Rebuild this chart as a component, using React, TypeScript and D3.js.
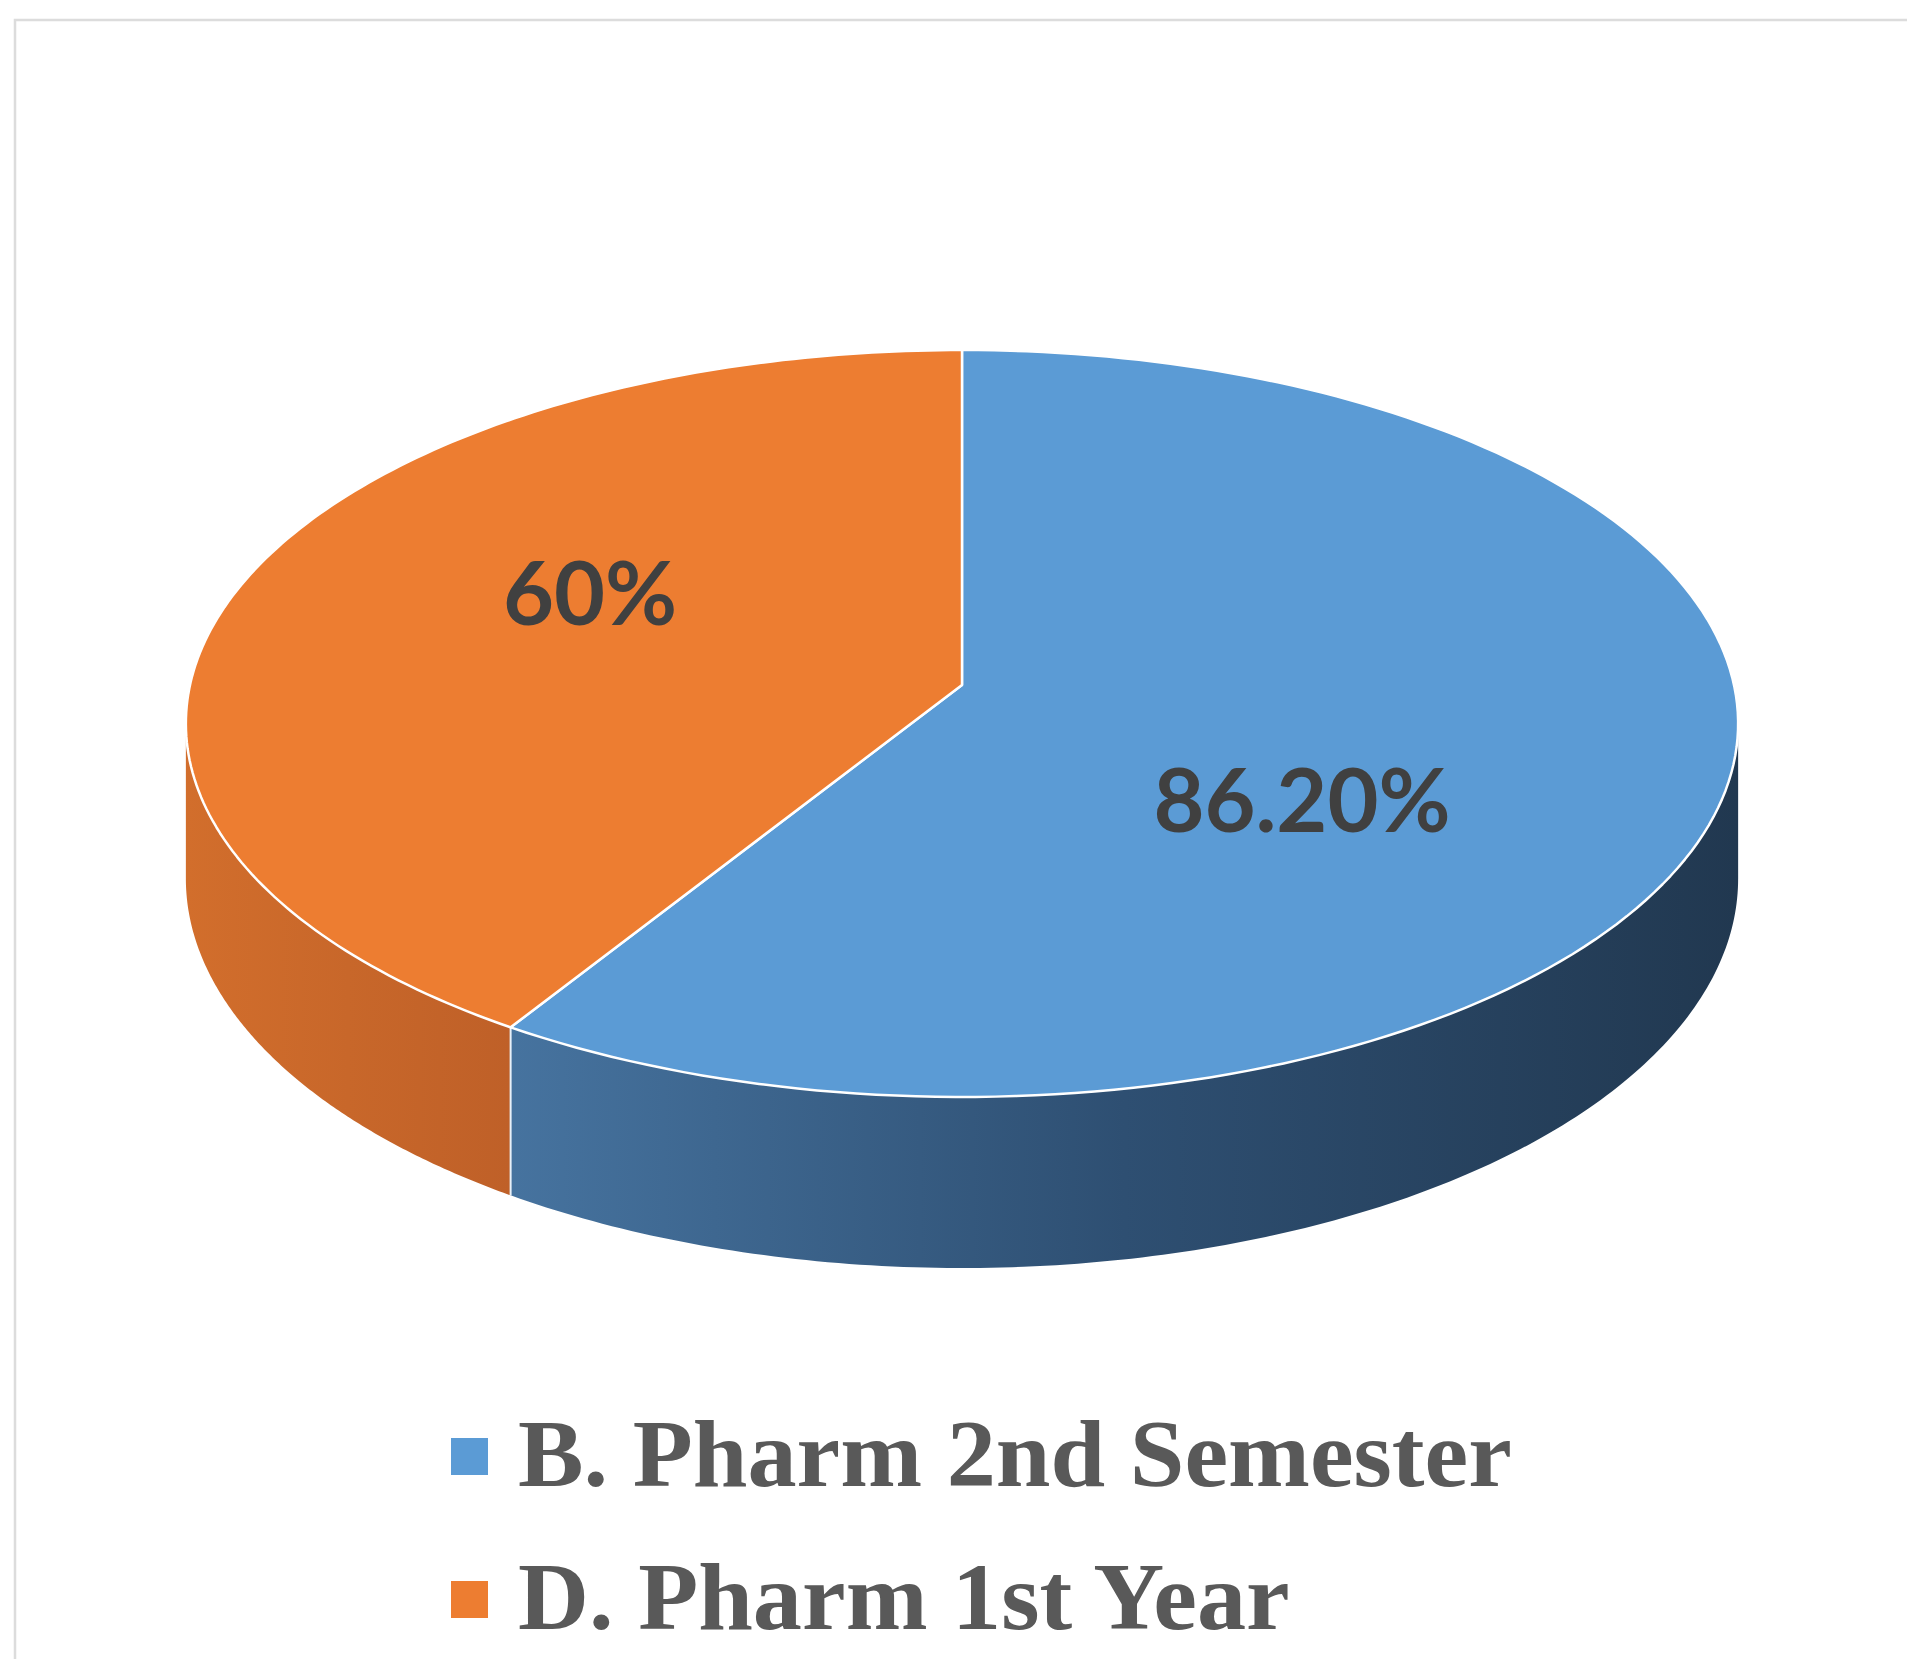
import React, { useEffect, useRef } from 'react'
import * as d3 from 'd3'

// chart data
const categories = ['B. Pharm 2nd Semester', 'D. Pharm 1st Year']
const values = [86.2, 60]
const valueLabels = ['86.20%', '60%']
const topColors = ['#5B9BD5', '#ED7D31']
const sideColors = [
	['#46739f', '#2e4f72', '#213850'],
	['#d26e2c', '#c8672a', '#bf6028'],
]

export default function App() {
	const ref = useRef<SVGSVGElement>(null)

	const width = 1907
	const height = 1659

	// 3d pie geometry (perspective projection of a flat disk)
	const cx = 962
	const cy = 685
	const B = 772 // horizontal radius factor
	const A = 369.5 // vertical radius factor
	const q = 0.1031 // perspective strength
	const depth = 153.4

	useEffect(() => {
		drawChart()
		// eslint-disable-next-line react-hooks/exhaustive-deps
	}, [])

	const project = (a: number, r = 1): [number, number] => {
		const u = Math.sin(a) * r
		const v = -Math.cos(a) * r
		const s = 1 / (1 - q * v)
		return [cx + B * u * s, cy + A * v * s]
	}
	const projectBottom = (a: number): [number, number] => {
		const [x, y] = project(a)
		const v = -Math.cos(a)
		return [x, y + depth / (1 - q * v)]
	}
	const sample = (a0: number, a1: number, n = 160) =>
		d3.range(n + 1).map((i) => a0 + ((a1 - a0) * i) / n)

	const drawChart = () => {
		const svg = d3.select(ref.current)
		svg.selectAll('*').remove()

		svg.append('rect').attr('width', width).attr('height', height).attr('fill', '#fff')

		// frame
		svg.append('rect')
			.attr('x', 15)
			.attr('y', 20)
			.attr('width', width + 20)
			.attr('height', height + 20)
			.attr('fill', 'none')
			.attr('stroke', '#dcdcdc')
			.attr('stroke-width', 2.5)

		const pie = d3.pie<number>().sort(null).value((d) => d)
		const arcs = pie(values)
		const line = d3.line()
		const defs = svg.append('defs')

		const visLo = Math.PI / 2 + Math.asin(q)
		const visHi = (3 * Math.PI) / 2 - Math.asin(q)

		// sides
		arcs.forEach((d, i) => {
			const lo = Math.max(d.startAngle, visLo)
			const hi = Math.min(d.endAngle, visHi)
			if (hi <= lo) return
			const top = sample(lo, hi).map((a) => project(a))
			const bottom = sample(lo, hi).reverse().map((a) => projectBottom(a))
			const xs = top.map((p) => p[0])
			const grad = defs.append('linearGradient')
				.attr('id', 'side-' + i)
				.attr('gradientUnits', 'userSpaceOnUse')
				.attr('x1', d3.min(xs)!)
				.attr('x2', d3.max(xs)!)
				.attr('y1', 0)
				.attr('y2', 0)
			sideColors[i].forEach((c, k) => {
				grad.append('stop')
					.attr('offset', k / (sideColors[i].length - 1))
					.attr('stop-color', c)
			})
			svg.append('path')
				.attr('d', line([...top, ...bottom]) + 'Z')
				.attr('fill', `url(#side-${i})`)
		})

		// edge lines on the side
		arcs.forEach((d) => {
			const a = d.startAngle
			if (a > visLo && a < visHi) {
				svg.append('path')
					.attr('d', line([project(a), projectBottom(a)]))
					.attr('stroke', '#e8f0f8')
					.attr('stroke-width', 2)
			}
		})

		// top faces
		arcs.forEach((d, i) => {
			const pts = [project(0, 0), ...sample(d.startAngle, d.endAngle).map((a) => project(a))]
			svg.append('path')
				.attr('d', line(pts) + 'Z')
				.attr('fill', topColors[i])
				.attr('stroke', '#ffffff')
				.attr('stroke-width', 2.5)
				.attr('stroke-linejoin', 'round')
		})

		// value labels
		const labelCx = cx - 16
		const labelRx = 0.48 * B
		const labelRy = 373
		const labelCy = 697
		const labelSize = 88
		arcs.forEach((d, i) => {
			const mid = (d.startAngle + d.endAngle) / 2
			const x = labelCx + labelRx * Math.sin(mid)
			const y = labelCy - labelRy * Math.cos(mid)
			svg.append('text')
				.attr('x', x)
				.attr('y', y + labelSize * 0.36)
				.attr('text-anchor', 'middle')
				.style('font-family', 'Lato, "Open Sans", sans-serif')
				.style('font-weight', 700)
				.style('font-size', labelSize + 'px')
				.style('fill', '#404040')
				.text(valueLabels[i])
		})

		// legend
		const legend = svg.append('g').attr('transform', 'translate(451, 1486)')
		categories.forEach((c, i) => {
			const g = legend.append('g').attr('transform', `translate(0, ${i * 143})`)
			g.append('rect')
				.attr('x', 0)
				.attr('y', -48)
				.attr('width', 37)
				.attr('height', 37)
				.attr('fill', topColors[i])
			g.append('text')
				.attr('transform', 'translate(67, 0) scale(1.035, 1)')
				.style('font-family', '"Liberation Serif", "Times New Roman", serif')
				.style('font-weight', 700)
				.style('font-size', '95px')
				.style('fill', '#595959')
				.text(c)
		})
	}

	return (
		<svg
			ref={ref}
			width={width}
			height={height}
			style={{ position: 'absolute', left: 0, top: 0, display: 'block' }}
		/>
	)
}
